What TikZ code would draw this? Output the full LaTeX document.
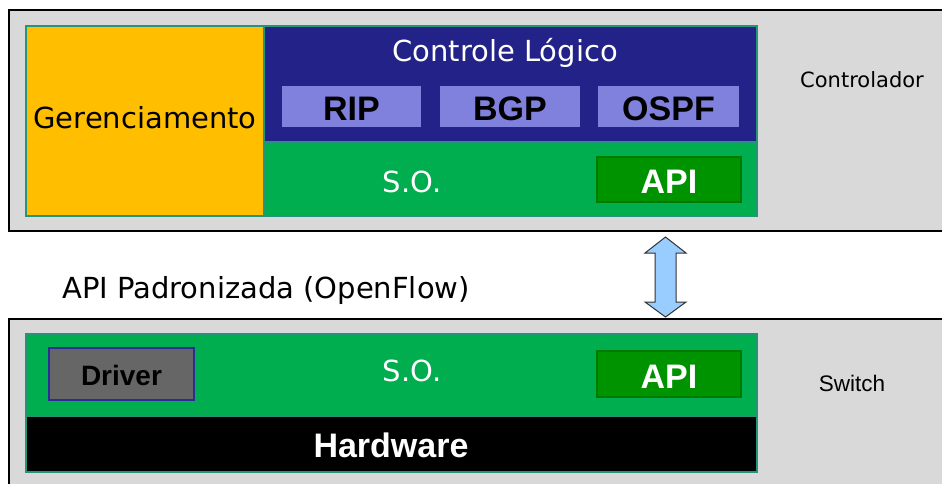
\documentclass[tikz,border=0pt]{standalone}
\usepackage{fontspec}
\usetikzlibrary{calc}
\setmainfont{DejaVu Sans}
\newfontfamily\arialfont{Liberation Sans}
\definecolor{panelgray}{HTML}{D9D9D9}
\definecolor{mgmtorange}{HTML}{FFBF00}
\definecolor{ctrlnavy}{HTML}{222288}
\definecolor{protolav}{HTML}{8080DD}
\definecolor{osgreen}{HTML}{00AD4F}
\definecolor{apigreen}{HTML}{009300}
\definecolor{apiedge}{HTML}{007A00}
\definecolor{drvgray}{HTML}{666666}
\definecolor{drvedge}{HTML}{2B2B99}
\definecolor{arrowblue}{HTML}{99CCFF}
\definecolor{tealedge}{HTML}{24957A}
\begin{document}
\begin{tikzpicture}[x=1pt,y=-1pt,
  blk/.style={anchor=north west, inner sep=0pt, outer sep=0pt, line width=1.2pt},
  panel/.style={blk, draw=black, fill=panelgray, line width=2pt},
  layer/.style={blk, draw=tealedge},
  dvtxt/.style={font=\fontsize{29}{32}\selectfont},
  bdtxt/.style={font=\arialfont\bfseries\fontsize{34}{36}\selectfont},
]
\useasboundingbox (0,0) rectangle (942,483);
\clip (0,0) rectangle (942,483);
\fill[white] (0,0) rectangle (942,483);

% controller panel
\node[panel, minimum width=945pt, minimum height=221pt] (ctrl) at (9,10) {};
\node[font=\fontsize{21}{24}\selectfont] (ctrllbl) at (862,80) {Controlador};

\node[layer, fill=mgmtorange, minimum width=238pt, minimum height=190pt] (mgmt) at (26,26) {};
\node[dvtxt] at ([yshift=3pt]mgmt.center) {Gerenciamento};

\node[layer, fill=ctrlnavy, minimum width=493pt, minimum height=116pt] (logic) at (264,26) {};
\node[dvtxt, text=white] (logiclbl) at (505,52.5) {Controle Lógico};

\node[blk, fill=protolav, minimum width=139pt, minimum height=41pt] (rip) at (282,86) {};
\node[blk, fill=protolav, minimum width=140pt, minimum height=41pt] (bgp) at (440,86) {};
\node[blk, fill=protolav, minimum width=141pt, minimum height=41pt] (ospf) at (598,86) {};
\node[bdtxt] at ([yshift=-2pt]rip.center) {RIP};
\node[bdtxt] at ([yshift=-2pt]bgp.center) {BGP};
\node[bdtxt] at ([yshift=-2pt]ospf.center) {OSPF};

\node[layer, fill=osgreen, minimum width=493pt, minimum height=74pt] (os1) at (264,142) {};
\node[dvtxt, text=white] at (412,182) {S.O.};
\node[blk, fill=apigreen, draw=apiedge, line width=2pt, minimum width=144pt, minimum height=45pt] (api1) at (597,157) {};
\node[bdtxt, text=white] at ([yshift=-2pt]api1.center) {API};

% standardised interface between the two panels
\node[dvtxt, fill=white, inner sep=2pt] (std) at (266,290) {API Padronizada (OpenFlow)};

% switch panel
\node[panel, minimum width=945pt, minimum height=180pt] (sw) at (9,319) {};
\node[font=\arialfont\fontsize{22.5}{25}\selectfont] (swlbl) at (852,383.5) {Switch};

\node[layer, fill=osgreen, minimum width=731pt, minimum height=82pt] (os2) at (26,334) {};
\node[dvtxt, text=white] at (412,370.5) {S.O.};
\node[blk, fill=drvgray, draw=drvedge, line width=2pt, minimum width=145pt, minimum height=52pt] (drv) at (49,348) {};
\node[font=\arialfont\bfseries\fontsize{28}{30}\selectfont] at ([yshift=-1pt]drv.center) {Driver};
\node[blk, fill=apigreen, draw=apiedge, line width=2pt, minimum width=144pt, minimum height=46pt] (api2) at (597,351) {};
\node[bdtxt, text=white] at ([yshift=-2.5pt]api2.center) {API};

\node[layer, fill=black, minimum width=731pt, minimum height=56pt] (hw) at (26,416) {};
\node[bdtxt, text=white] at (391,445) {Hardware};

% double-headed link between controller API and switch API
\coordinate (ta) at (665.5,237);
\coordinate (tb) at (665.5,317);
\draw[fill=arrowblue, draw=black!80, line width=1pt, line join=miter]
  (ta) -- ++(20.5,16) -- ++(-10,0) -- ($(tb)+(10.5,-15)$) -- ++(10,0) -- (tb)
  -- ++(-20.5,-15) -- ++(10,0) -- ($(ta)+(-10.5,16)$) -- ++(-10,0) -- cycle;
\end{tikzpicture}
\end{document}
